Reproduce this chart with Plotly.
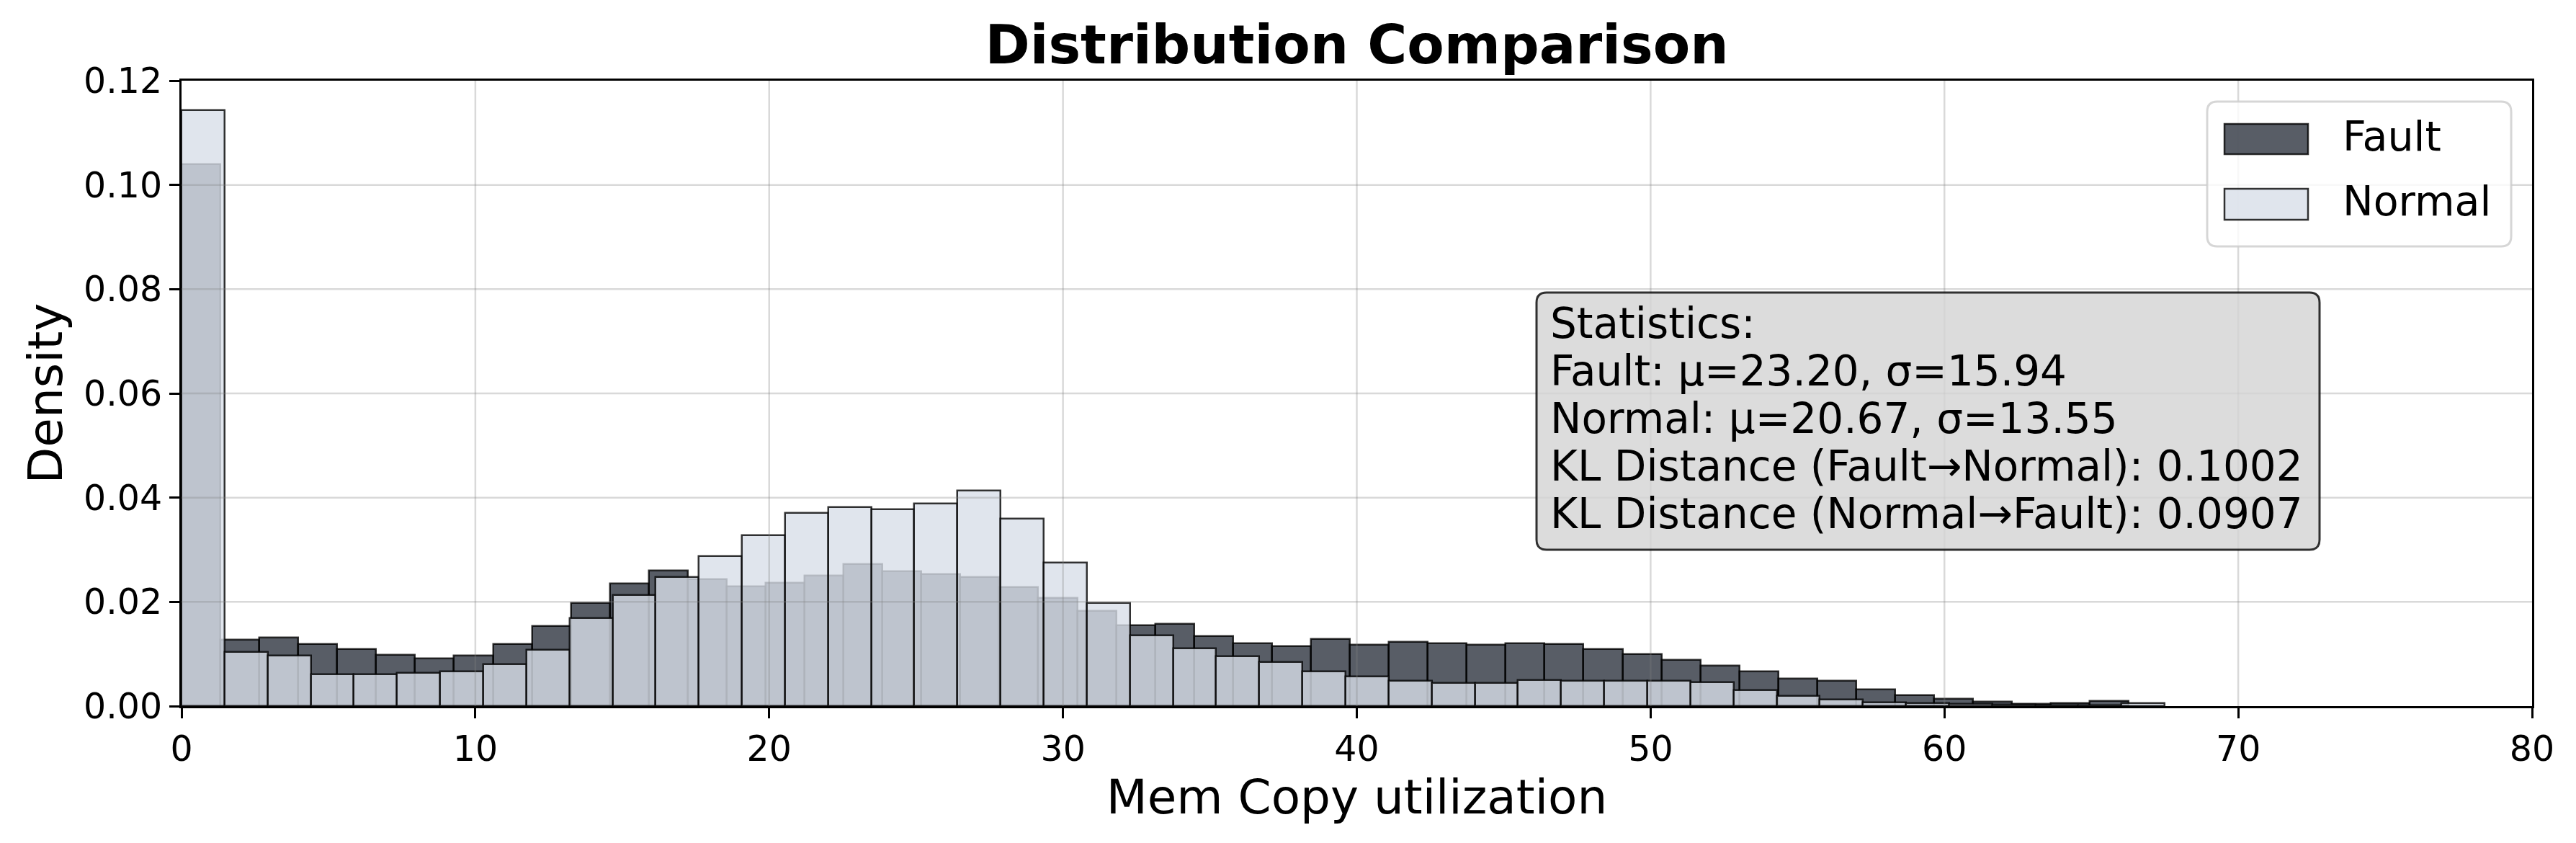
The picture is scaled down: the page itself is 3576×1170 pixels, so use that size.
import numpy as np
import plotly.graph_objects as go

# ---------------- data ----------------
fault_density = [0.1039, 0.0127, 0.0131, 0.0119, 0.0109, 0.0098, 0.0091, 0.0097, 0.0119, 0.0153,
                 0.0198, 0.0235, 0.0260, 0.0243, 0.0229, 0.0236, 0.0250, 0.0273, 0.0259, 0.0253,
                 0.0248, 0.0228, 0.0207, 0.0182, 0.0155, 0.0158, 0.0134, 0.0120, 0.0115, 0.0129,
                 0.0118, 0.0123, 0.0120, 0.0117, 0.0120, 0.0119, 0.0109, 0.0099, 0.0089, 0.0077,
                 0.0066, 0.0052, 0.0048, 0.0032, 0.0021, 0.0014, 0.0008, 0.0004, 0.0005, 0.0010]
fault_range = [0.0, 66.28]

normal_density = [0.1144, 0.0104, 0.0097, 0.0061, 0.0061, 0.0063, 0.0067, 0.0080, 0.0108, 0.0168,
                  0.0213, 0.0248, 0.0287, 0.0328, 0.0371, 0.0382, 0.0378, 0.0388, 0.0413, 0.0359,
                  0.0275, 0.0198, 0.0136, 0.0111, 0.0096, 0.0085, 0.0067, 0.0056, 0.0048, 0.0044,
                  0.0044, 0.0050, 0.0048, 0.0048, 0.0049, 0.0046, 0.0030, 0.0020, 0.0012, 0.0007,
                  0.0006, 0.0004, 0.0003, 0.0002, 0.0002, 0.0005]
normal_range = [0.0, 67.5]

x_ticks = [0, 10, 20, 30, 40, 50, 60, 70, 80]
y_ticks = [0.00, 0.02, 0.04, 0.06, 0.08, 0.10, 0.12]

stats_lines = [
    "Statistics:",
    "Fault: μ=23.20, σ=15.94",
    "Normal: μ=20.67, σ=13.55",
    "KL Distance (Fault→Normal): 0.1002",
    "KL Distance (Normal→Fault): 0.0907",
]

FONT = "DejaVu Sans"
FAULT_FILL = "rgba(46,52,64,0.8)"
NORMAL_FILL = "rgba(216,222,233,0.8)"
EDGE = "rgba(0,0,0,0.8)"

# ---------------- layout geometry (pixels) ----------------
W, H = 3576, 1170
L, R, T, B = 252, 3515, 112, 980
PW, PH = R - L, B - T


def pp(px, py):
    return (px - L) / PW, (B - py) / PH


def rounded_rect(x0, y0, x1, y1, r):
    def P(x, y):
        a, b = pp(x, y)
        return f"{a:.6f},{b:.6f}"
    path = (f"M {P(x0 + r, y0)} L {P(x1 - r, y0)} Q {P(x1, y0)} {P(x1, y0 + r)} "
            f"L {P(x1, y1 - r)} Q {P(x1, y1)} {P(x1 - r, y1)} "
            f"L {P(x0 + r, y1)} Q {P(x0, y1)} {P(x0, y1 - r)} "
            f"L {P(x0, y0 + r)} Q {P(x0, y0)} {P(x0 + r, y0)} Z")
    return path


def hist_bar(density, rng, name, fill):
    n = len(density)
    edges = np.linspace(rng[0], rng[1], n + 1)
    w = edges[1] - edges[0]
    centers = edges[:-1] + w / 2
    return go.Bar(x=centers, y=density, width=[w] * n, name=name,
                  marker=dict(color=fill, line=dict(color=EDGE, width=2.5)),
                  showlegend=False)


fig = go.Figure()
fig.add_trace(hist_bar(fault_density, fault_range, "Fault", FAULT_FILL))
fig.add_trace(hist_bar(normal_density, normal_range, "Normal", NORMAL_FILL))

shapes = []
GRID = dict(color="rgba(128,128,128,0.3)", width=2.5)
for xv in x_ticks[1:-1]:
    shapes.append(dict(type="line", xref="x", yref="paper", x0=xv, x1=xv, y0=0, y1=1,
                       line=GRID, layer="above"))
for yv in y_ticks[1:-1]:
    shapes.append(dict(type="line", xref="paper", yref="y", x0=0, x1=1, y0=yv, y1=yv,
                       line=GRID, layer="above"))

# statistics box
shapes.append(dict(type="path", xref="paper", yref="paper",
                   path=rounded_rect(2133, 406, 3220, 763, 14),
                   fillcolor="rgba(211,211,211,0.8)",
                   line=dict(color="rgba(0,0,0,0.8)", width=3), layer="above"))
# legend box
shapes.append(dict(type="path", xref="paper", yref="paper",
                   path=rounded_rect(3064, 141, 3486, 342, 14),
                   fillcolor="rgba(255,255,255,0.8)",
                   line=dict(color="rgba(204,204,204,0.8)", width=3), layer="above"))
# legend patches
for (py0, py1), fill in [((172, 214), FAULT_FILL), ((262, 305), NORMAL_FILL)]:
    a0, b0 = pp(3088, py1)
    a1, b1 = pp(3204, py0)
    shapes.append(dict(type="rect", xref="paper", yref="paper", x0=a0, x1=a1, y0=b0, y1=b1,
                       fillcolor=fill, line=dict(color=EDGE, width=2.5), layer="above"))

annotations = []
for i, line in enumerate(stats_lines):
    ax, ay = pp(2150, 449 + 66 * i)
    annotations.append(dict(text=line, xref="paper", yref="paper", x=ax, y=ay,
                            xanchor="left", yanchor="middle", showarrow=False,
                            font=dict(family=FONT, size=58, color="black")))
for name, cy in [("Fault", 189), ("Normal", 279)]:
    ax, ay = pp(3250, cy)
    annotations.append(dict(text=name, xref="paper", yref="paper", x=ax, y=ay,
                            xanchor="left", yanchor="middle", showarrow=False,
                            font=dict(family=FONT, size=57, color="black")))

axis_common = dict(showline=True, linecolor="black", linewidth=3, mirror=True,
                   ticks="outside", ticklen=14, tickwidth=3, tickcolor="black",
                   showgrid=False, zeroline=False,
                   tickfont=dict(family=FONT, size=49, color="black"))

fig.update_layout(
    width=W, height=H,
    margin=dict(l=L, r=W - R, t=T, b=H - B, autoexpand=False),
    paper_bgcolor="white", plot_bgcolor="white",
    barmode="overlay", bargap=0,
    title=dict(text="<b>Distribution Comparison</b>", x=0.5, xref="paper",
               y=1 - 62 / H, yref="container", xanchor="center", yanchor="middle",
               font=dict(family=FONT, size=75, color="black")),
    xaxis=dict(range=[0, 80], tickvals=x_ticks, ticktext=[str(v) for v in x_ticks],
               title=dict(text="Mem Copy utilization", standoff=14,
                          font=dict(family=FONT, size=66, color="black")),
               **axis_common),
    yaxis=dict(range=[0, 0.12], tickvals=y_ticks, ticktext=[f"{v:.2f}" for v in y_ticks],
               title=dict(text="Density", standoff=8,
                          font=dict(family=FONT, size=66, color="black")),
               **axis_common),
    shapes=shapes,
    annotations=annotations,
)

fig.write_html("out.html")
